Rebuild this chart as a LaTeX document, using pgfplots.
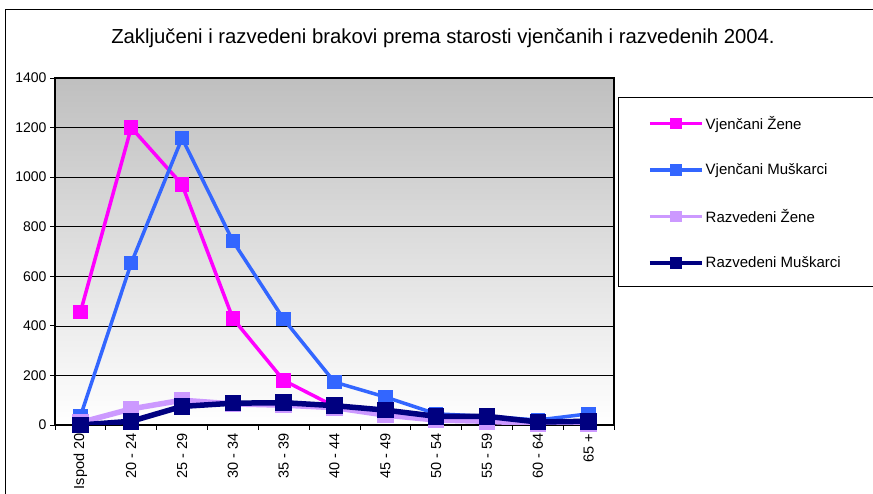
\documentclass[border=0pt]{standalone}
\usepackage{pgfplots}
\pgfplotsset{compat=1.18}
\usepackage{pgfplotstable}
\usepackage{fontspec}
\setmainfont{Liberation Sans}
\definecolor{cpink}{HTML}{FF00FF}
\definecolor{cblue}{HTML}{3366FF}
\definecolor{clav}{HTML}{CC99FF}
\definecolor{cnavy}{HTML}{000080}
\pgfplotstableread{
x vz vm rz rm
0 455 35 10 0
1 1200 653 65 15
2 970 1157 100 75
3 430 742 85 88
4 180 427 80 90
5 75 173 70 78
6 45 113 40 60
7 20 45 20 35
8 15 35 15 35
9 5 20 5 12
10 10 45 5 15
}\data
\begin{document}
\begin{tikzpicture}[x=1pt,y=1pt]
\useasboundingbox (0,0) rectangle (873,494);
\draw[black, line width=1pt] (5,-5) -- (5,484) -- (880,484);
\node[font=\fontsize{20.3}{23}\selectfont] at (443,456) {Zaključeni i razvedeni brakovi prema starosti vjenčanih i razvedenih 2004.};
\draw[black, line width=1pt] (618,207) rectangle (885,396);
\begin{axis}[
  at={(55pt,69pt)}, anchor=south west,
  scale only axis, width=559pt, height=347pt,
  xmin=-0.5, xmax=10.5, ymin=0, ymax=1400,
  ytick={0,200,...,1400},
  ymajorgrids, grid style={black, line width=0.6pt},
  xtick={0,...,10},
  xticklabels={Ispod 20, 20 - 24, 25 - 29, 30 - 34, 35 - 39, 40 - 44, 45 - 49, 50 - 54, 55 - 59, 60 - 64, 65 +},
  x tick label style={rotate=90, anchor=east, font=\fontsize{14.5}{17}\selectfont},
  y tick label style={font=\fontsize{14}{17}\selectfont},
  /pgf/number format/assume math mode=true,
  /pgf/number format/1000 sep={},
  xtick pos=bottom, ytick pos=left,
  major x tick style={draw=none},
  minor xtick={-0.5,0.5,...,10.5},
  minor tick style={black, line width=0.8pt},
  major tick style={black, line width=0.8pt},
  tick align=outside, major tick length=5pt, minor tick length=5pt,
  axis background/.style={shade, top color=black!25, bottom color=white},
  axis line style={black, line width=1.5pt},
  legend style={at={(1.00716,0.9424)}, anchor=north west, draw=none, fill=none,
    font=\fontsize{15}{18}\selectfont, row sep=29pt, inner xsep=30pt, inner ysep=16pt,
    nodes={inner sep=2pt}},
  legend cell align=left,
  legend image code/.code={\draw[mark repeat=2,mark phase=2, mark size=4pt, line width=3.5pt] plot coordinates {(0pt,0pt) (26pt,0pt) (52pt,0pt)};},
  every axis plot/.append style={mark=square*, mark size=5.5pt, mark options={solid}},
]
\addplot[cpink, line width=3.5pt, mark options={fill=cpink, draw=cpink}] table[x=x,y=vz]{\data};
\addlegendentry{Vjenčani Žene}
\addplot[cblue, line width=3.5pt, mark options={fill=cblue, draw=cblue}] table[x=x,y=vm]{\data};
\addlegendentry{Vjenčani Muškarci}
\addplot[clav, line width=5.5pt, mark options={fill=clav, draw=clav}] table[x=x,y=rz]{\data};
\addlegendentry{Razvedeni Žene}
\addplot[cnavy, line width=5.5pt, mark options={fill=cnavy, draw=cnavy}] table[x=x,y=rm]{\data};
\addlegendentry{Razvedeni Muškarci}
\end{axis}
\end{tikzpicture}
\end{document}
